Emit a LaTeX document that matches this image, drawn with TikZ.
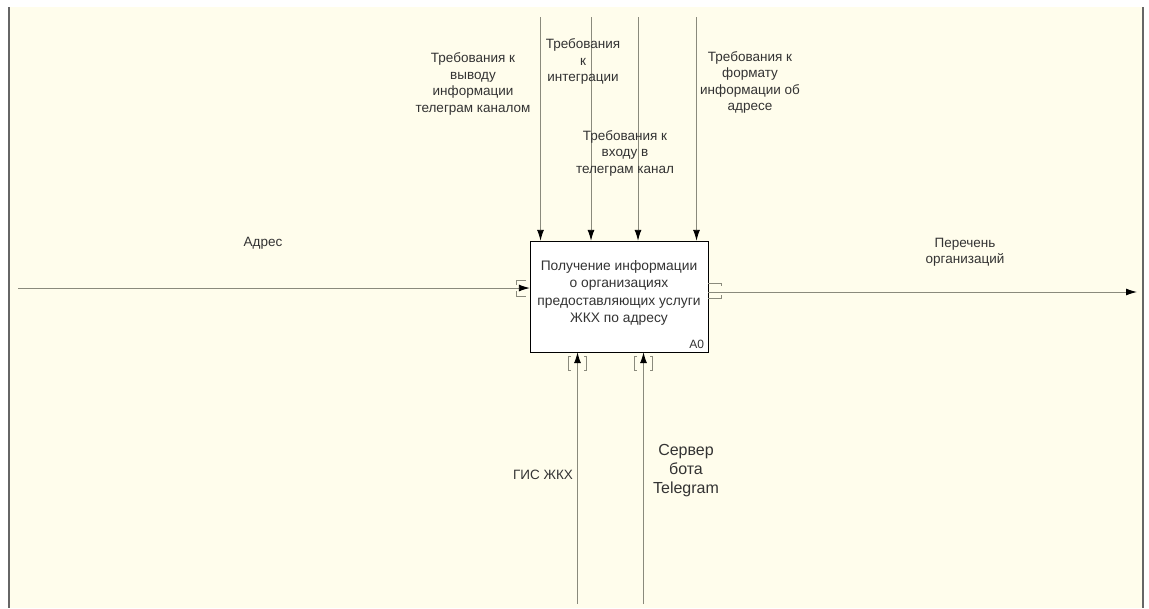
\documentclass[tikz,border=0pt]{standalone}
\usepackage{fontspec}
\setmainfont{Liberation Sans}
\usetikzlibrary{arrows.meta}

\definecolor{sheet}{HTML}{FFFDEC}
\definecolor{wire}{HTML}{8A8A7C}
\definecolor{ink}{HTML}{333333}

\begin{document}
\begin{tikzpicture}[x=1pt,y=-1pt,>={Latex[length=11pt,width=7pt,color=black]},
  func node/.style={draw=black,fill=white,inner sep=0pt,minimum width=178pt,minimum height=111pt},
  lbl node/.style={align=center,text=ink,inner sep=1pt,font=\fontsize{13.5}{16.5}\selectfont},
  big node/.style={align=center,text=ink,inner sep=1pt,font=\fontsize{16}{19}\selectfont},
  arc/.style={->,draw=wire,line width=0.9pt},
  tunnel/.style={draw=wire,line width=0.6pt}]

	\useasboundingbox (0,0) rectangle (1149,608);
	\fill[white] (0,0) rectangle (1149,608);
	\fill[sheet] (10,7) rectangle (1143,608);
	\draw[black!60,line width=2pt] (9,7) -- (9,608);
	\draw[black!60,line width=1.5pt] (1143,7) -- (1143,608);

	% activity box
	\node[func node] (A0) at (619,296.5) {};
	\node[lbl node,font=\fontsize{13.8}{17.5}\selectfont] (A0txt) at (619,293) {Получение информации\\о организациях\\предоставляющих услуги\\ЖКХ по адресу};
	\node[lbl node,anchor=south east,font=\fontsize{12}{13}\selectfont] (A0num) at (A0.south east) [xshift=-3pt,yshift=2pt] {A0};

	% controls
	\coordinate (c1) at (540.5,17);
	\coordinate (c2) at (591,17);
	\coordinate (c3) at (638,17);
	\coordinate (c4) at (696.5,17);
	\draw[arc] (c1) -- (c1 |- A0.north);
	\draw[arc] (c2) -- (c2 |- A0.north);
	\draw[arc] (c3) -- (c3 |- A0.north);
	\draw[arc] (c4) -- (c4 |- A0.north);
	\node[lbl node] (ctl1) at (473,84) {Требования к\\выводу\\информации\\телеграм каналом};
	\node[lbl node] (ctl2) at (583,61.5) {Требования\\к\\интеграции};
	\node[lbl node] (ctl3) at (625,153) {Требования к\\входу в\\телеграм канал};
	\node[lbl node] (ctl4) at (750,82.5) {Требования к\\формату\\информации об\\адресе};

	% input
	\coordinate (in) at (18,288);
	\draw[arc] (in) -- (in -| A0.west);
	\node[lbl node] (inlbl) at (263,243) {Адрес};
	\draw[tunnel] (526,280) -- (516,280) -- (516,285);
	\draw[tunnel] (516,291) -- (516,296) -- (526,296);

	% output
	\coordinate (out) at (1137,292);
	\draw[arc] (A0.east |- out) -- (out);
	\node[lbl node] (outlbl) at (965,252.5) {Перечень\\организаций};
	\draw[tunnel] (708,283) -- (721,283) -- (721,286);
	\draw[tunnel] (708,298) -- (721,298) -- (721,295);

	% mechanisms
	\coordinate (m1) at (577.5,604);
	\coordinate (m2) at (643.5,604);
	\draw[arc] (m1) -- (m1 |- A0.south);
	\draw[arc] (m2) -- (m2 |- A0.south);
	\node[lbl node] (mlbl1) at (543,475) {ГИС ЖКХ};
	\node[big node] (mlbl2) at (686,471) {Сервер\\бота\\Telegram};
	\draw[tunnel] (571,356) -- (568.5,356) -- (568.5,370) -- (571,370);
	\draw[tunnel] (584,356) -- (586.5,356) -- (586.5,370) -- (584,370);
	\draw[tunnel] (637,356) -- (634.5,356) -- (634.5,370) -- (637,370);
	\draw[tunnel] (650,356) -- (652.5,356) -- (652.5,370) -- (650,370);

\end{tikzpicture}
\end{document}
